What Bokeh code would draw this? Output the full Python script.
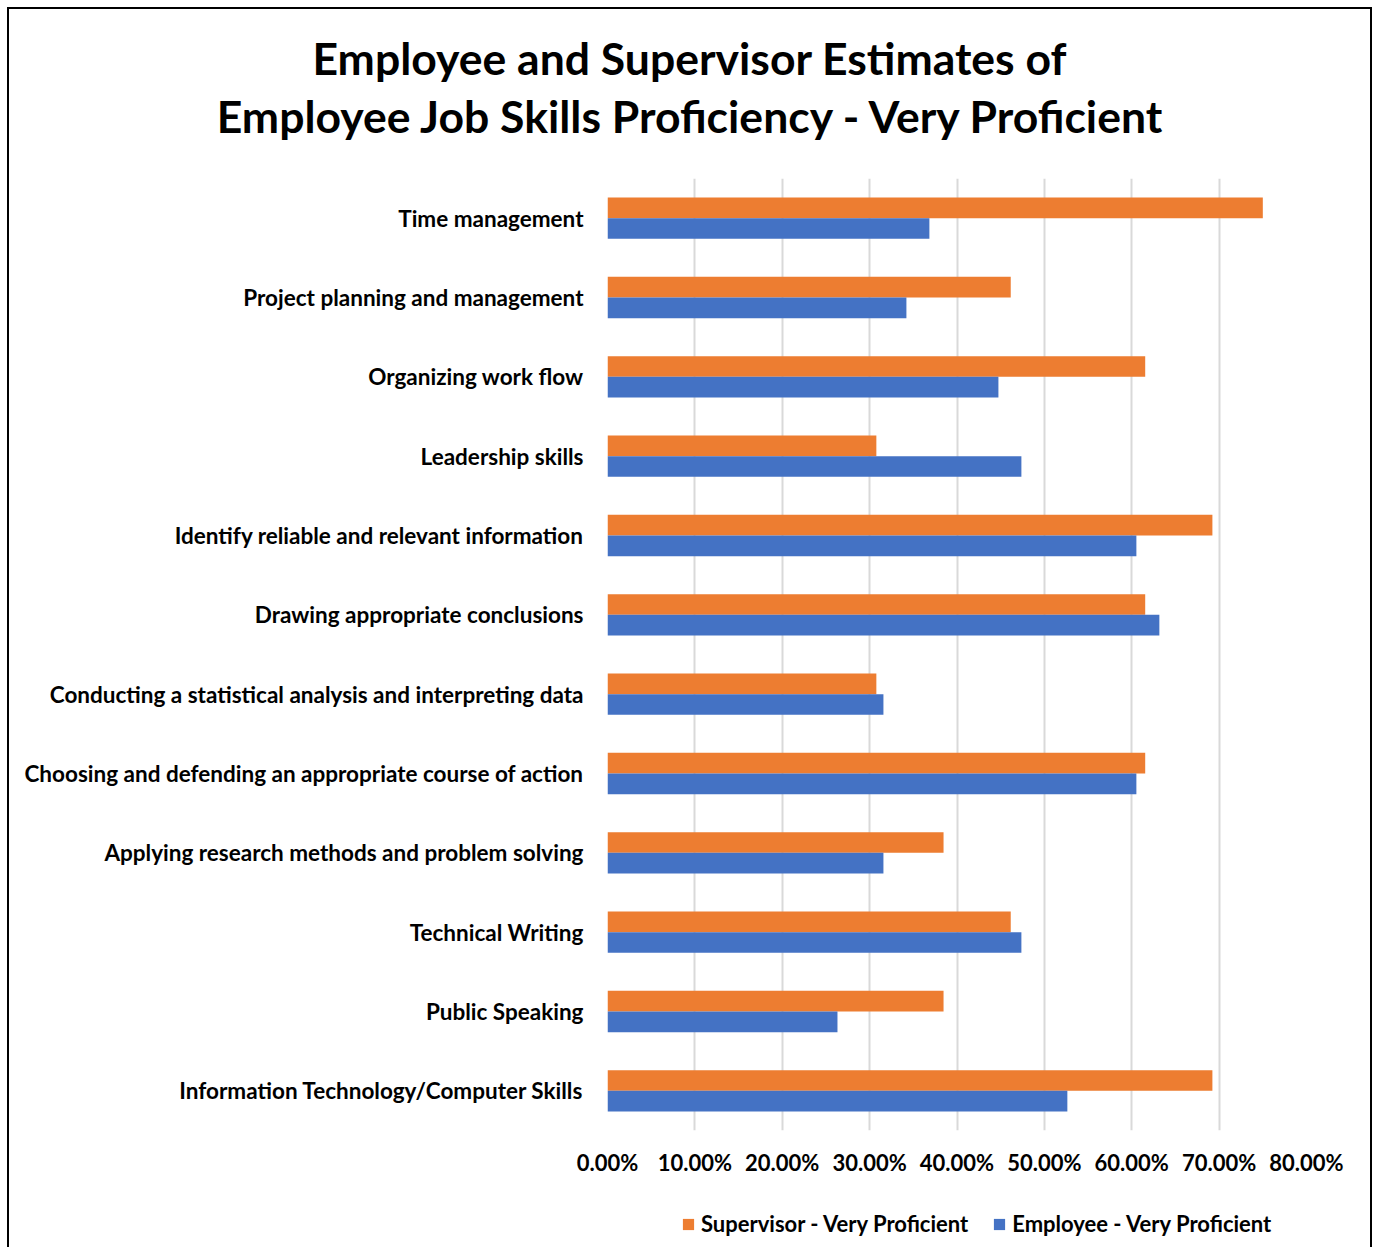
from bokeh.plotting import figure
from bokeh.layouts import column
from bokeh.models import (FactorRange, Range1d, FixedTicker, NumeralTickFormatter,
                          Div, Legend, LegendItem, ColumnDataSource)
from bokeh.transform import dodge
from bokeh.embed import file_html
from bokeh.resources import INLINE

categories = [
    "Time management",
    "Project planning and management",
    "Organizing work flow",
    "Leadership skills",
    "Identify reliable and relevant information",
    "Drawing appropriate conclusions",
    "Conducting a statistical analysis and interpreting data",
    "Choosing and defending an appropriate course of action",
    "Applying research methods and problem solving",
    "Technical Writing",
    "Public Speaking",
    "Information Technology/Computer Skills",
]
supervisor = [0.75, 0.4615, 0.6154, 0.3077, 0.6923, 0.6154, 0.3077, 0.6154,
              0.3846, 0.4615, 0.3846, 0.6923]
employee = [0.3684, 0.3421, 0.4474, 0.4737, 0.6053, 0.6316, 0.3158, 0.6053,
            0.3158, 0.4737, 0.2632, 0.5263]
x_ticks = [0.0, 0.1, 0.2, 0.3, 0.4, 0.5, 0.6, 0.7, 0.8]
series_names = ["Supervisor - Very Proficient", "Employee - Very Proficient"]
title_lines = ["Employee and Supervisor Estimates of",
               "Employee Job Skills Proficiency - Very Proficient"]

FONT = "Lato"
ORANGE = "#ED7D31"
BLUE = "#4472C4"
FS = "22px"
W = 1361

# ---------- title ----------
title_html = ('<div style="font-family:Lato;font-weight:bold;font-size:44.5px;'
              'line-height:58px;text-align:center;padding-top:20px;color:black;'
              'width:%dpx;white-space:nowrap">%s</div>' % (W, "<br>".join(title_lines)))
tdiv = Div(text=title_html, width=W, height=169, margin=0)

# ---------- main chart ----------
src = ColumnDataSource(dict(cat=categories, sup=supervisor, emp=employee))

p = figure(output_backend="svg", toolbar_location=None,
           y_range=FactorRange(*reversed(categories)), x_range=Range1d(0, 0.8),
           min_border_left=598, min_border_right=64, min_border_top=0,
           min_border_bottom=60, frame_width=699, frame_height=952)
p.outline_line_color = None

p.hbar(y=dodge("cat", 0.13, range=p.y_range), right="sup", left=0, height=0.26,
       source=src, fill_color=ORANGE, line_color=None)
p.hbar(y=dodge("cat", -0.13, range=p.y_range), right="emp", left=0, height=0.26,
       source=src, fill_color=BLUE, line_color=None)

p.xaxis.ticker = FixedTicker(ticks=x_ticks)
p.xaxis.formatter = NumeralTickFormatter(format="0.00%")
p.xaxis.axis_line_color = None
p.xaxis.major_tick_line_color = None
p.xaxis.minor_tick_line_color = None
p.xaxis.major_label_text_font = FONT
p.xaxis.major_label_text_font_size = FS
p.xaxis.major_label_text_font_style = "bold"
p.xaxis.major_label_text_color = "black"
p.xaxis.major_label_standoff = 12

p.yaxis.axis_line_color = None
p.yaxis.major_tick_line_color = None
p.yaxis.major_label_text_font = FONT
p.yaxis.major_label_text_font_size = "22.5px"
p.yaxis.major_label_text_font_style = "bold"
p.yaxis.major_label_text_color = "black"
p.yaxis.major_label_standoff = 18

p.xgrid.grid_line_color = "#d9d9d9"
p.xgrid.grid_line_width = 2
p.ygrid.grid_line_color = None

# ---------- legend strip (its frame is aligned with the chart frame) ----------
lf = figure(width=W, height=61, output_backend="svg", toolbar_location=None,
            x_axis_location=None, y_axis_location=None, min_border=0,
            x_range=Range1d(0, 1), y_range=Range1d(0, 1))
lf.outline_line_color = None
lf.grid.visible = False
# legend-key renderers: one row of the series each, kept outside the strip's visible range
r_s = lf.hbar(y=[-10], right=[supervisor[0]], left=0, height=0.5,
              fill_color=ORANGE, line_color=None)
r_e = lf.hbar(y=[-10], right=[employee[0]], left=0, height=0.5,
              fill_color=BLUE, line_color=None)
legend = Legend(items=[LegendItem(label=series_names[0], renderers=[r_s]),
                       LegendItem(label=series_names[1], renderers=[r_e])],
                orientation="horizontal", location=(74, 14),
                label_text_font=FONT, label_text_font_size=FS,
                label_text_font_style="bold", label_text_color="black",
                glyph_width=14, glyph_height=14, label_standoff=6, spacing=24,
                padding=0, margin=0, border_line_color=None,
                background_fill_alpha=0)
lf.add_layout(legend, "center")

layout = column(tdiv, p, lf, spacing=0,
                styles={"border": "2px solid black", "margin": "7px 0 0 7px"})

open("out.html", "w").write(file_html(layout, INLINE))
